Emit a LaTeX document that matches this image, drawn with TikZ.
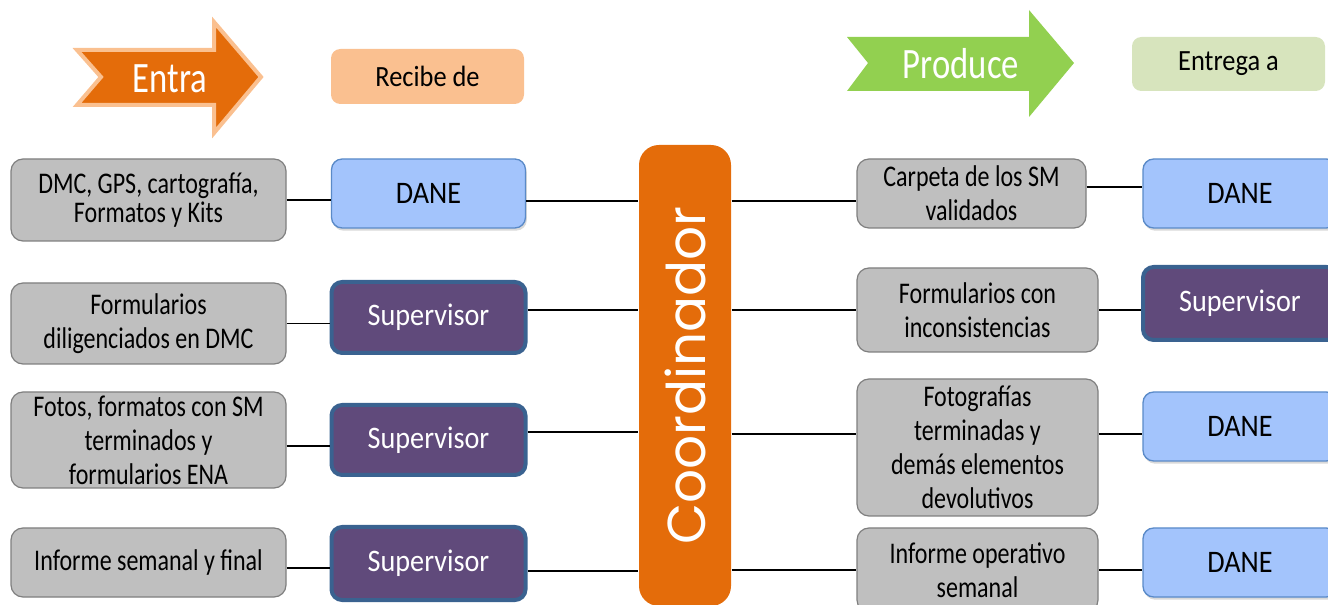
\documentclass[tikz,border=0pt]{standalone}
\usepackage{fontspec}
\setmainfont[FakeStretch=0.9]{Carlito}
\newfontfamily\estrecha[FakeStretch=0.8]{Carlito}
\newfontfamily\coordfont{Poppins}
\usepackage{tikz}
\usetikzlibrary{shadows}

\definecolor{grisfondo}{HTML}{BFBFBF}
\definecolor{grisborde}{HTML}{7F7F7F}
\definecolor{azulfondo}{HTML}{A3C4FC}
\definecolor{azulborde}{HTML}{5A8AC8}
\definecolor{morado}{HTML}{604A7B}
\definecolor{moradoborde}{HTML}{3A6290}
\definecolor{naranja}{HTML}{E46C0A}
\definecolor{naranjaclaro}{HTML}{FAC090}
\definecolor{verde}{HTML}{92D050}
\definecolor{verdeclaro}{HTML}{D7E4BD}

\begin{document}
\begin{tikzpicture}[x=0.75pt,
                    y=-0.75pt,
                    line width=1.1pt,
                    gris/.style={rectangle, rounded corners=9pt, draw=grisborde, line width=0.9pt,
                                 fill=grisfondo, align=center, inner sep=0pt,
                                 font=\estrecha\fontsize{22.5}{25.5}\selectfont},
                    dane/.style={rectangle, rounded corners=8pt, draw=azulborde, line width=1pt,
                                 fill=azulfondo, inner sep=0pt, font=\fontsize{23.5}{28}\selectfont,
                                 drop shadow={opacity=0.3, shadow xshift=1pt, shadow yshift=-2pt}},
                    superv/.style={rectangle, rounded corners=8pt, draw=moradoborde, line width=3pt,
                                   fill=morado, text=white, inner sep=0pt,
                                   font=\fontsize{23.5}{28}\selectfont},
                    titulo/.style={rectangle, rounded corners=7pt, inner sep=0pt,
                                   minimum width=144.75pt, font=\fontsize{22}{26}\selectfont},
                    flecha/.style={text=white, inner sep=0pt, font=\estrecha\fontsize{32.5}{36}\selectfont},
                    %coord/.style={rectangle, draw}
                    ]
  \clip (0,0) rectangle (1328,605);

  % cabeceras
  \draw[draw=naranjaclaro, line width=3pt, fill=naranja]
    (77,50) -- (214,50) -- (214,22) -- (261,77) -- (214,133) -- (214,105) -- (77,105) -- (101,77) -- cycle;
  \node[flecha] (entra) at (170,79) {Entra};
  \node[titulo, fill=naranjaclaro, minimum height=41.25pt] (recibe) at (427.5,76.5) {Recibe de};
  \draw[draw=none, fill=verde]
    (847,37) -- (1029,37) -- (1029,10) -- (1074,63) -- (1029,117) -- (1029,91) -- (847,91) -- (868,63) -- cycle;
  \node[flecha] (produce) at (961,64) {Produce};
  \node[titulo, fill=verdeclaro, minimum height=40.5pt] (entrega) at (1228.5,64) {Entrega a};

  % coordinador
  \node[rectangle, rounded corners=15pt, fill=naranja, text=white, rotate=90,
        minimum width=345.75pt, minimum height=69pt, inner sep=0pt,
        font=\coordfont\fontsize{40}{40}\selectfont] (co) at (685,375.5) {Coordinador};

  % entradas
  \node[gris, minimum width=206.25pt, minimum height=61.5pt, font=\estrecha\fontsize{22.5}{22}\selectfont] (g1) at (148.5,200)
    {DMC, GPS, cartografía,\\Formatos y Kits};
  \node[gris, minimum width=206.25pt, minimum height=60.75pt] (g2) at (148.5,323.5)
    {Formularios\\diligenciados en DMC};
  \node[gris, minimum width=206.25pt, minimum height=72pt] (g3) at (148.5,440)
    {Fotos, formatos con SM\\terminados y\\formularios ENA};
  \node[gris, minimum width=206.25pt, minimum height=51.75pt] (g4) at (148.5,562.5)
    {Informe semanal y final};

  \node[dane, minimum width=145.5pt, minimum height=51.75pt] (d1) at (428.5,193.5) {DANE};
  \node[superv, minimum width=145.5pt, minimum height=53.25pt] (s1) at (428.5,317.5) {Supervisor};
  \node[superv, minimum width=145.5pt, minimum height=52.5pt] (s2) at (428.5,440) {Supervisor};
  \node[superv, minimum width=145.5pt, minimum height=54.75pt] (s3) at (428.5,563.5) {Supervisor};

  % salidas
  \node[gris, minimum width=171.75pt, minimum height=51.75pt] (rg1) at (971.5,193.5)
    {Carpeta de los SM\\validados};
  \node[gris, minimum width=180.75pt, minimum height=63pt] (rg2) at (977.5,310)
    {Formularios con\\inconsistencias};
  \node[gris, minimum width=180.75pt, minimum height=102.75pt] (rg3) at (977.5,447.5)
    {Fotografías\\terminadas y\\demás elementos\\devolutivos};
  \node[gris, minimum width=180.75pt, minimum height=63pt] (rg4) at (977.5,570)
    {Informe operativo\\semanal};

  \node[dane, minimum width=145.5pt, minimum height=51.75pt] (rd1) at (1240,193.5) {DANE};
  \node[superv, minimum width=145.5pt, minimum height=54.75pt] (rs) at (1240,303.5) {Supervisor};
  \node[dane, minimum width=145.5pt, minimum height=51.75pt] (rd2) at (1240,426.5) {DANE};
  \node[dane, minimum width=145.5pt, minimum height=51.75pt] (rd3) at (1240,562.5) {DANE};

  % conectores
  \foreach \g/\s/\dy in {g1/d1/0, g2/s1/0, g3/s2/-4.5, g4/s3/-4.1} {
    \coordinate (\g-sal) at ([yshift=\dy pt]\g.east);
    \draw (\g-sal) -- (\g-sal -| \s.west);
  }
  \foreach \s/\dy in {d1/-5.6, s1/5.6, s2/6, s3/-5.6} {
    \coordinate (\s-sal) at ([yshift=\dy pt]\s.east);
    \draw (\s-sal) -- (\s-sal -| co.north);
  }
  \foreach \r/\dy in {rg1/-5.6, rg2/0, rg3/10.1, rg4/0} {
    \coordinate (\r-ent) at ([yshift=\dy pt]\r.west);
    \draw (\r-ent -| co.south) -- (\r-ent);
  }
  \foreach \r/\d/\dy in {rg1/rd1/4.9, rg2/rs/-4.9, rg3/rd2/-5.6, rg4/rd3/-5.6} {
    \coordinate (\d-ent) at ([yshift=\dy pt]\d.west);
    \draw (\d-ent -| \r.east) -- (\d-ent);
  }
\end{tikzpicture}
\end{document}
